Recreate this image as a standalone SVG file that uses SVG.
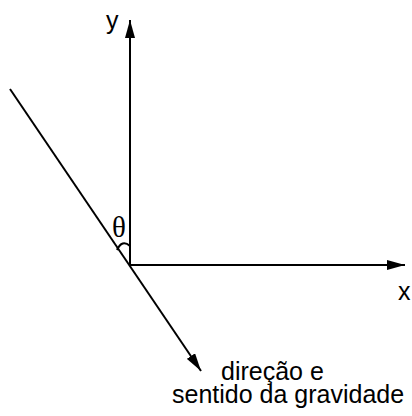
<svg xmlns="http://www.w3.org/2000/svg" width="412" height="416" viewBox="0 0 412 416">
<style>
.ln{stroke:#000;stroke-width:2;fill:none}
.lbl{font-family:"Liberation Sans",Arial,sans-serif;font-size:25px;fill:#000}
.th{font-family:"Liberation Serif","Times New Roman",serif;font-size:29px;fill:#000}
</style>
<defs>
<marker id="ah" viewBox="0 0 18 10" refX="18" refY="5" markerWidth="18" markerHeight="10" markerUnits="userSpaceOnUse" orient="auto">
<path d="M0,0 L18,5 L0,10 Z" fill="#000"/>
</marker>
</defs>
<rect width="412" height="416" fill="#fff"/>
<g id="connectors">
<line class="ln" x1="130" y1="265" x2="130" y2="20" marker-end="url(#ah)"/>
<line class="ln" x1="130" y1="265" x2="405" y2="265" marker-end="url(#ah)"/>
<line class="ln" x1="10" y1="89" x2="201" y2="371" marker-end="url(#ah)"/>
<path class="ln" d="M117,250 Q122,239 130,246" stroke-width="1.5"/>
</g>
<g id="label-y"><text class="lbl" x="106" y="29">y</text></g>
<g id="label-x"><text class="lbl" x="398" y="300">x</text></g>
<g id="label-theta"><text class="th" x="112" y="237">θ</text></g>
<g id="label-gravity">
<text class="lbl" x="221" y="380">direção e</text>
<text class="lbl" x="172" y="403">sentido da gravidade</text>
</g>
</svg>
